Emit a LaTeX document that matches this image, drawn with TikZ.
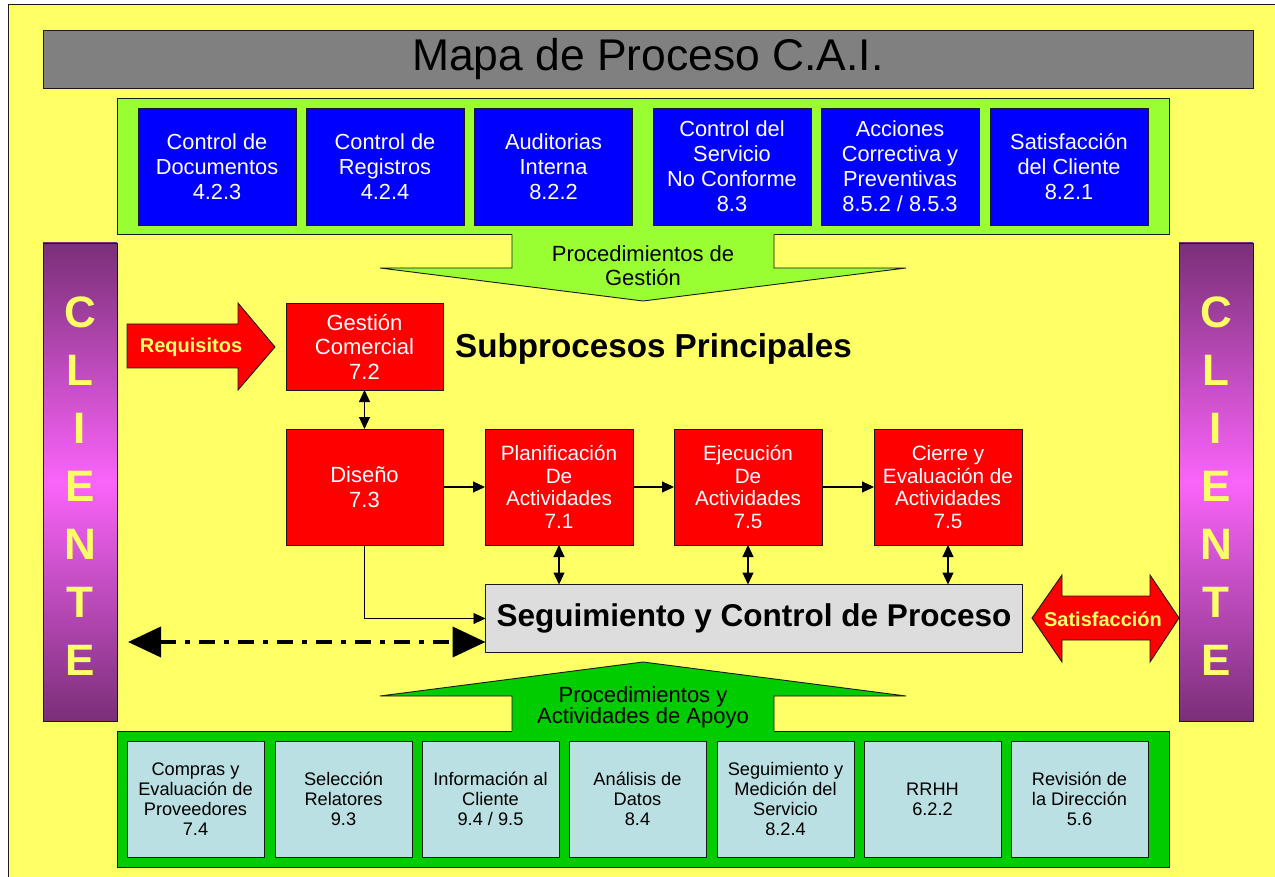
\documentclass[tikz,border=0pt]{standalone}
\usepackage{fontspec}
\setmainfont{Liberation Sans}
\usetikzlibrary{arrows.meta}
\definecolor{bgyel}{HTML}{FFFF66}
\definecolor{titlegray}{HTML}{808080}
\definecolor{topgreen}{HTML}{99FF33}
\definecolor{botgreen}{HTML}{00CC00}
\definecolor{boxblue}{HTML}{0000FF}
\definecolor{boxred}{HTML}{FF0000}
\definecolor{seggray}{HTML}{DDDDDD}
\definecolor{lightblue}{HTML}{BAE0E3}
\definecolor{purdark}{HTML}{7A2F78}
\definecolor{purlight}{HTML}{FA64FA}
\definecolor{edge}{HTML}{1A1A1A}
\tikzset{
 box/.style={draw=edge, line width=0.9pt, inner sep=0pt, outer sep=0pt, align=center},
 bluebox/.style={box, fill=boxblue, text=white, minimum width=158pt, minimum height=117pt, font=\fontsize{21.8}{25}\selectfont},
 redbox/.style={box, fill=boxred, text=white, minimum width=148pt, minimum height=116pt, font=\fontsize{20.7}{22.7}\selectfont},
 lbbox/.style={box, fill=lightblue, text=black, minimum width=137pt, minimum height=116pt, font=\fontsize{18.2}{20}\selectfont},
 clientbar/.style={draw=edge, line width=0.9pt, inner sep=0pt, outer sep=0pt, minimum width=74pt, minimum height=478pt, top color=purdark, bottom color=purdark, middle color=purlight},
 clientletters/.style={text=bgyel, font=\fontsize{44}{58}\selectfont\bfseries, align=center, inner sep=0pt},
 conn/.style={line width=1.1pt, -{Triangle[length=12pt,width=11pt]}},
 dconn/.style={line width=1.1pt, {Triangle[length=12pt,width=11pt]}-{Triangle[length=12pt,width=11pt]}},
 blockarrow/.style={draw=edge, line width=0.9pt, fill=boxred, line join=miter},
 arrowlabel/.style={text=bgyel, font=\fontsize{20}{22}\selectfont\bfseries, inner sep=0pt},
 bandlabel/.style={text=black, align=center, inner sep=0pt},
 outline/.style={draw=edge, line width=0.9pt, line join=miter},
}
\begin{document}
\begin{tikzpicture}[x=1pt,y=-1pt]
\useasboundingbox (0,0) rectangle (1275,877);
\clip (0,0) rectangle (1275,877);
\fill[bgyel, draw=edge, line width=1pt] (8,5) rectangle (1290,890);
% title
\node[box, fill=titlegray, minimum width=1210pt, minimum height=58pt, font=\fontsize{44.4}{50}\selectfont] (title) at (648,59) {Mapa de Proceso C.A.I.};
% top band
\draw[outline, fill=topgreen] (117,98) rectangle (1169,234);
\node[bluebox] (b1) at (217,166.5) {Control de\\Documentos\\4.2.3};
\node[bluebox] (b2) at (385,166.5) {Control de\\Registros\\4.2.4};
\node[bluebox] (b3) at (553.5,166.5) {Auditorias\\Interna\\8.2.2};
\node[bluebox] (b4) at (732,166.5) {Control del\\Servicio\\No Conforme\\8.3};
\node[bluebox] (b5) at (900,166.5) {Acciones\\Correctiva y\\Preventivas\\8.5.2 / 8.5.3};
\node[bluebox] (b6) at (1069,166.5) {Satisfacción\\del Cliente\\8.2.1};
% gestion arrow
\fill[topgreen] (512,233) -- (774,233) -- (774,268) -- (906,268) -- (643,301) -- (380,268) -- (512,268) -- cycle;
\draw[outline] (512,234.5) -- (512,268) -- (380,268) -- (643,301) -- (906,268) -- (774,268) -- (774,234.5);
\node[bandlabel, font=\fontsize{22}{24}\selectfont] (pg) at (643,266) {Procedimientos de\\Gestión};
% client bars
\node[clientbar] (cl) at (80,482) {};
\node[clientbar] (cr) at (1216,482) {};
\node[clientletters] (cltext) at (80,486) {C\\L\\I\\E\\N\\T\\E};
\node[clientletters] (crtext) at (1216,486) {C\\L\\I\\E\\N\\T\\E};
% requisitos
\draw[blockarrow] (127,324) -- (238,324) -- (238,303) -- (275,347) -- (238,390) -- (238,368) -- (127,368) -- cycle;
\node[arrowlabel] (req) at (191,347) {Requisitos};
% satisfaccion
\draw[blockarrow] (1032,618) -- (1062,575) -- (1062,596) -- (1150,596) -- (1150,575) -- (1179,618) -- (1150,662) -- (1150,640) -- (1062,640) -- (1062,662) -- cycle;
\node[arrowlabel] (sat) at (1103,619) {Satisfacción};
% red boxes
\node[redbox, minimum width=157pt, minimum height=87pt, font=\fontsize{22}{24.5}\selectfont] (gc) at (364.5,346.5) {Gestión\\Comercial\\7.2};
\node[redbox, minimum width=157pt, font=\fontsize{22}{24.5}\selectfont] (dis) at (364.5,487) {Diseño\\7.3};
\node[redbox] (plan) at (559,487) {Planificación\\De\\Actividades\\7.1};
\node[redbox] (eje) at (748,487) {Ejecución\\De\\Actividades\\7.5};
\node[redbox] (cie) at (948,487) {Cierre y\\Evaluación de\\Actividades\\7.5};
\node[box, fill=seggray, text=black, minimum width=537pt, minimum height=68pt, font=\fontsize{31.5}{34}\selectfont\bfseries] (seg) at (754,618.5) {Seguimiento y Control de Proceso};
\node[anchor=base west, inner sep=0pt, font=\fontsize{33.2}{36}\selectfont\bfseries] (sub) at (455,358) {Subprocesos Principales};
% connectors
\draw[dconn] (gc.south) -- (dis.north);
\draw[conn] (dis.east) -- (plan.west);
\draw[conn] (plan.east) -- (eje.west);
\draw[conn] (eje.east) -- (cie.west);
\draw[dconn] (plan.south) -- (plan.south |- seg.north);
\draw[dconn] (eje.south) -- (eje.south |- seg.north);
\draw[dconn] (cie.south) -- (cie.south |- seg.north);
\draw[conn, line width=0.9pt] (dis.south) |- (seg.west);
\coordinate (dl) at (128,642);
\draw[line width=4pt, dash pattern=on 16pt off 9pt on 5pt off 9pt, {Triangle[length=33pt,width=30pt]}-{Triangle[length=33pt,width=30pt]}] (dl) -- (dl -| seg.west);
% bottom band
\draw[outline, fill=botgreen] (117,731) rectangle (1169,867);
\fill[botgreen] (512,732.5) -- (512,696) -- (380,696) -- (643,662) -- (906,696) -- (774,696) -- (774,732.5) -- cycle;
\draw[outline] (512,730.5) -- (512,696) -- (380,696) -- (643,662) -- (906,696) -- (774,696) -- (774,730.5);
\node[bandlabel, font=\fontsize{22}{19.5}\selectfont] (pa) at (643,707.5) {Procedimientos y\\Actividades de Apoyo};
\node[lbbox] (l1) at (195.5,799) {Compras y\\Evaluación de\\Proveedores\\7.4};
\node[lbbox] (l2) at (343.5,799) {Selección\\Relatores\\9.3};
\node[lbbox] (l3) at (490.5,799) {Información al\\Cliente\\9.4 / 9.5};
\node[lbbox] (l4) at (637.5,799) {Análisis de\\Datos\\8.4};
\node[lbbox] (l5) at (785.5,799) {Seguimiento y\\Medición del\\Servicio\\8.2.4};
\node[lbbox] (l6) at (932.5,799) {RRHH\\6.2.2};
\node[lbbox] (l7) at (1079.5,799) {Revisión de\\la Dirección\\5.6};
\end{tikzpicture}
\end{document}
